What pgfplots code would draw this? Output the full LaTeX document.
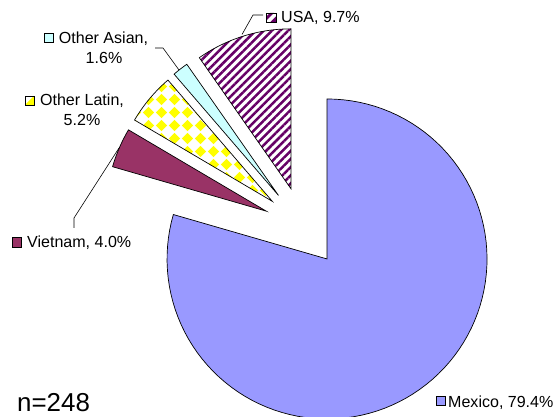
\documentclass[border=0pt]{standalone}
\usepackage{pgfplots}
\pgfplotsset{compat=1.18}
\usepackage{pgfplotstable}
\usepackage{fontspec}
\setmainfont{Liberation Sans}
\usetikzlibrary{patterns.meta}

\definecolor{mexico}{HTML}{9999FF}
\definecolor{vietnam}{HTML}{993366}
\definecolor{oasian}{HTML}{CCFFFF}
\definecolor{ylw}{HTML}{FFFF00}
\definecolor{usap}{HTML}{660066}

\newcommand\lf{\fontsize{16.1}{19}\selectfont}

\tikzdeclarepattern{
  name=ydiamonds, type=uncolored,
  bounding box={(0pt,0pt) and (13pt,13pt)},
  tile size={(13pt,13pt)},
  code={
    \fill (6.5pt,0.9pt) -- (12.1pt,6.5pt) -- (6.5pt,12.1pt) -- (0.9pt,6.5pt) -- cycle;
  }
}

\pgfplotsset{
  slice0/.style={draw=black, line width=0.7pt, fill=mexico},
  slice1/.style={draw=black, line width=0.7pt, fill=vietnam},
  slice2/.style={draw=black, line width=0.7pt, pattern=ydiamonds, pattern color=ylw},
  slice3/.style={draw=black, line width=0.7pt, fill=oasian},
  slice4/.style={draw=black, line width=0.7pt, pattern={Lines[angle=45,distance=5.8pt,line width=2.5pt]}, pattern color=usap},
}

% pie geometry (in pixel units of the picture)
\def\cx{303}
\def\cy{190}
\def\rr{160}
\def\ex{40}

\newcommand\pieslice[3]{%
  \pgfmathsetmacro\mid{((#1)+(#2))/2}%
  \pgfmathsetmacro\ax{\cx+\ex*cos(\mid)}%
  \pgfmathsetmacro\ay{\cy+\ex*sin(\mid)}%
  \edef\tmp{\noexpand\addplot[#3, mark=none, domain=0:100, samples=101, variable=\noexpand\t]
    ({\ax+(\noexpand\t>0.5)*\rr*cos((#2)+(\noexpand\t-1)*((#1)-(#2))/99)},
     {\ay+(\noexpand\t>0.5)*\rr*sin((#2)+(\noexpand\t-1)*((#1)-(#2))/99)}) -- cycle;}%
  \tmp
}

\pgfplotstableread{
name value
Mexico 79.4
Vietnam 4.0
OtherLatin 5.2
OtherAsian 1.6
USA 9.7
}\piedata

\begin{document}
\begin{tikzpicture}
\gdef\total{0}
\foreach \j in {0,...,4}{%
  \pgfplotstablegetelem{\j}{value}\of\piedata
  \pgfmathsetmacro\tmpsum{\total+\pgfplotsretval}%
  \xdef\total{\tmpsum}%
}
\begin{axis}[scale only axis, width=558bp, height=417bp,
  xmin=0, xmax=558, ymin=0, ymax=417, hide axis, clip=false]
\gdef\astart{90}
\pgfplotsforeachungrouped \i in {0,...,4}{%
  \pgfplotstablegetelem{\i}{value}\of\piedata
  \pgfmathsetmacro\aend{\astart-\pgfplotsretval/\total*360}%
  \pieslice{\astart}{\aend}{slice\i}%
  \global\let\astart\aend
}

% leader lines
\addplot[black, line width=0.6pt, mark=none] coordinates {(263,402) (253,402) (242,382.5)};
\addplot[black, line width=0.6pt, mark=none] coordinates {(155,369) (163,369) (179,347)};
\addplot[black, line width=0.6pt, mark=none] coordinates {(74,189) (74,199) (119,269)};

% label keys
\draw[line width=0.6pt, fill=white] (266,395) rectangle (276,404);
\fill[usap] (276,395) -- (276,400.5) -- (270.5,395) -- cycle;
\fill[usap] (270,404) -- (274,404) -- (266,396) -- (266,400) -- cycle;
\draw[line width=0.6pt] (266,395) rectangle (276,404);
\draw[line width=0.6pt, fill=oasian] (44,375) rectangle (53,384);
\draw[line width=0.6pt, fill=white] (25,312) rectangle (34,321);
\fill[ylw] (25,312) -- (34,312) -- (34,321) -- cycle;
\draw[line width=0.6pt] (25,312) rectangle (34,321);
\draw[line width=0.6pt, fill=vietnam] (12,170) rectangle (21,180);
\draw[line width=0.6pt, fill=mexico] (436,12) rectangle (445,21);

% label texts
\node[anchor=base west, inner sep=0, font=\lf] at (281,394.5) {USA, 9.7\%};
\node[anchor=base, inner sep=0, font=\lf] at (103.5,373.5) {Other Asian,};
\node[anchor=base, inner sep=0, font=\lf] at (104,353.5) {1.6\%};
\node[anchor=base, inner sep=0, font=\lf] at (82,311.5) {Other Latin,};
\node[anchor=base, inner sep=0, font=\lf] at (82,291.5) {5.2\%};
\node[anchor=base west, inner sep=0, font=\lf] at (27,169.5) {Vietnam, 4.0\%};
\node[anchor=base west, inner sep=0, font=\lf] at (448,9.5) {Mexico, 79.4\%};
\node[anchor=base west, inner sep=0, font=\fontsize{26}{30}\selectfont] at (17,5) {n=248};
\end{axis}
\pgfresetboundingbox
\useasboundingbox (current axis.south west) rectangle (current axis.north east);
\end{tikzpicture}
\end{document}
